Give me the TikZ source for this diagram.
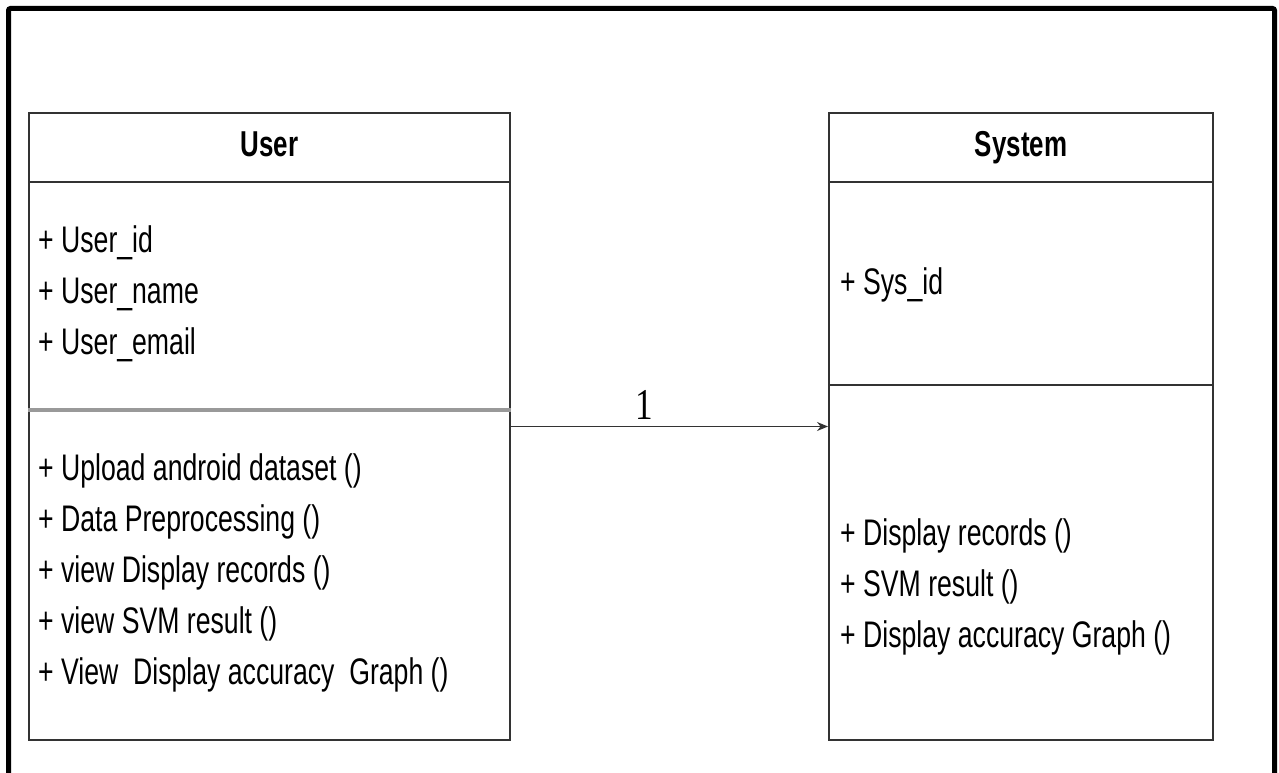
\documentclass[tikz,border=0pt]{standalone}
\usepackage{fontspec}
\setmainfont[FakeStretch=0.72]{Liberation Sans}
\newfontfamily\numfont[FakeStretch=0.8]{Liberation Serif}
\usetikzlibrary{arrows.meta}

\begin{document}
\begin{tikzpicture}[x=1pt, y=-1pt, >={Stealth[length=11pt,width=9pt]},
  classbox/.style={draw=black!80, line width=2pt, minimum height=627pt},
  title/.style={font=\fontsize{36}{44}\selectfont\bfseries, anchor=base},
  members/.style={font=\fontsize{37}{51}\selectfont, align=left, anchor=west, inner sep=0pt},
  rule/.style={draw=black!80, line width=2pt}]

  \useasboundingbox (0,0) rectangle (1279,773);
  % outer frame, its bottom runs off the page
  \draw[line width=5pt, rounded corners=2pt] (8.5,790) -- (8.5,8.5) -- (1274.5,8.5) -- (1274.5,790);

  % the two classes
  \node[classbox, minimum width=481pt] (user) at (269.5,426.5) {};
  \node[classbox, minimum width=384pt] (system) at (1021,426.5) {};

  \draw[rule] ([yshift=-70pt]user.north west) -- ([yshift=-70pt]user.north east);
  \draw[rule, draw=black!40, line width=4pt] ([yshift=-298pt]user.north west) -- ([yshift=-298pt]user.north east);
  \draw[rule] ([yshift=-70pt]system.north west) -- ([yshift=-70pt]system.north east);
  \draw[rule] ([yshift=-273pt]system.north west) -- ([yshift=-273pt]system.north east);

  \node[title] (usertitle) at ([yshift=-44pt]user.north) {User};
  \node[title] (systitle) at ([yshift=-44pt]system.north) {System};

  \node[members] (userattr) at (38,293.5) {+ User\_id\\+ User\_name\\+ User\_email};
  \node[members] (userops) at (38,573) {+ Upload android dataset ()\\+ Data Preprocessing ()\\+ view Display records ()\\+ view SVM result ()\\+ View\ \ Display accuracy\ \ Graph ()};
  \node[members] (sysattr) at (840,285) {+ Sys\_id};
  \node[members] (sysops) at (840,587) {+ Display records ()\\+ SVM result ()\\+ Display accuracy Graph ()};

  % association
  \draw[->, line width=1.3pt, black!80] (user) -- (system)
    node[pos=0.42, above=3pt, font=\numfont\fontsize{44}{44}\selectfont, text=black] (mult) {1};

\end{tikzpicture}
\end{document}
